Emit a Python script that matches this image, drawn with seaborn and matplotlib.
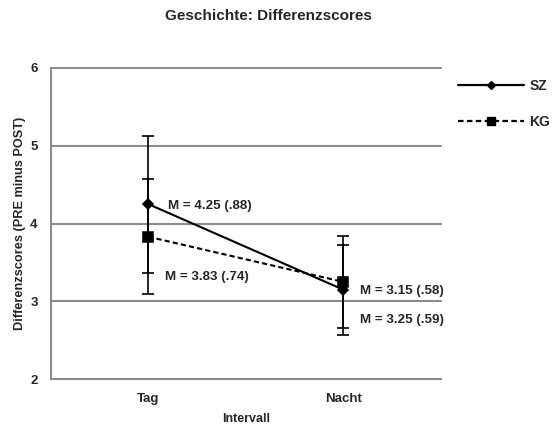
import matplotlib
matplotlib.use("Agg")
import matplotlib.pyplot as plt
import seaborn as sns
import pandas as pd
from matplotlib.lines import Line2D

# Mean difference scores (PRE minus POST) with standard deviations
intervalle = ["Tag", "Nacht"]
gruppen = ["SZ", "KG"]
sz_mean = [4.25, 3.15]
sz_sd = [0.88, 0.58]
kg_mean = [3.83, 3.25]
kg_sd = [0.74, 0.59]

df = pd.DataFrame({
    "Intervall": intervalle * 2,
    "Gruppe": ["SZ"] * 2 + ["KG"] * 2,
    "M": sz_mean + kg_mean,
    "SD": sz_sd + kg_sd,
})

sns.set_theme(style="white")
plt.rcParams["font.family"] = ["Liberation Sans", "DejaVu Sans"]
plt.rcParams["font.weight"] = "bold"

grid_col = "#8c8c8c"
dash = (2.5, 1.5)
fig = plt.figure(figsize=(5.53, 4.25), dpi=100)
ax = fig.add_axes([0.092, 0.108, 0.705, 0.732])

for yv in [3, 4, 5, 6]:
    ax.axhline(yv, color=grid_col, lw=1.5, zorder=0, clip_on=False)

sns.pointplot(data=df, x="Intervall", y="M", hue="Gruppe", order=intervalle,
              hue_order=gruppen, palette=["black", "black"], markers=["D", "s"],
              linestyles=["-", "--"], errorbar=None, dodge=False, ax=ax,
              markersize=6, linewidth=1.5, legend=False)

# Per-marker sizes and dash pattern
for ln in ax.lines:
    if ln.get_marker() == "D":
        ln.set_markersize(5.2)
    elif ln.get_marker() == "s":
        ln.set_markersize(7)
        ln.set_dashes(dash)

# Error bars: mean ± SD
for means, sds in [(sz_mean, sz_sd), (kg_mean, kg_sd)]:
    ax.errorbar(range(len(intervalle)), means, yerr=sds, fmt="none",
                ecolor="black", elinewidth=1.2, capsize=4, capthick=1.2, zorder=3)

# Value labels
labels = [
    (0, sz_mean[0], sz_sd[0], 14.4, -1.4),
    (0, kg_mean[0], kg_sd[0], 12.2, -29),
    (1, sz_mean[1], sz_sd[1], 12.2, -1),
    (1, kg_mean[1], kg_sd[1], 12.2, -27.5),
]
for x, m, sd, dx, dy in labels:
    txt = f"M = {m:.2f} ({sd:.2f})".replace("(0.", "(.")
    ax.annotate(txt, xy=(x, m), xytext=(dx, dy), textcoords="offset points",
                ha="left", va="center", fontsize=9.6, fontweight="bold")

ax.set_xlim(-0.5, 1.5)
ax.set_ylim(2, 6)
ax.set_yticks([2, 3, 4, 5, 6])
ax.tick_params(axis="y", length=3, color=grid_col, width=1.5, pad=6.5, labelsize=9.5)
ax.tick_params(axis="x", length=0, pad=10, labelsize=9.5)
for lab in ax.get_xticklabels() + ax.get_yticklabels():
    lab.set_fontweight("bold")

for side in ["top", "right"]:
    ax.spines[side].set_visible(False)
for side in ["left", "bottom"]:
    ax.spines[side].set_color(grid_col)
    ax.spines[side].set_linewidth(1.5)

ax.set_xlabel("Intervall", fontsize=9, fontweight="bold", labelpad=6)
ax.set_ylabel("Differenzscores (PRE minus POST)", fontsize=9.2, fontweight="bold", labelpad=3)
fig.suptitle("Geschichte: Differenzscores", x=0.485, y=0.978, fontsize=11, fontweight="bold")

handles = [
    Line2D([], [], color="black", lw=1.6, ls="-", marker="D", markersize=4.5),
    Line2D([], [], color="black", lw=1.6, ls=(0, dash), marker="s", markersize=5.8),
]
fig.legend(handles, gruppen, loc="upper left", bbox_to_anchor=(0.808, 0.84),
           frameon=False, handlelength=4.75, handletextpad=0.4, labelspacing=1.6,
           borderpad=0.3, prop={"weight": "bold", "size": 10})

fig.savefig("out.png", dpi=100)
